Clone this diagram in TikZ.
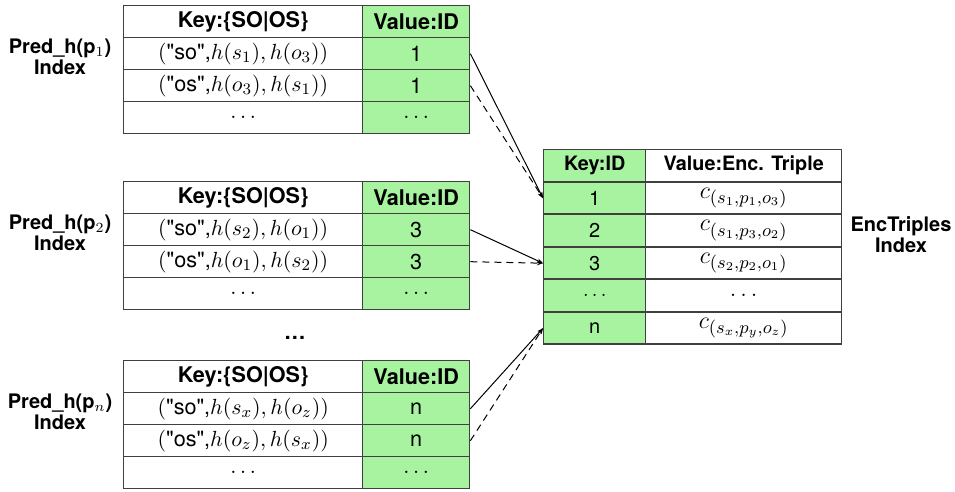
\documentclass[tikz,border=0pt]{standalone}
\usepackage[no-math]{fontspec}
\setsansfont{TeX Gyre Heros}
\usetikzlibrary{arrows.meta}

\definecolor{idgreen}{RGB}{168,243,160}
\newcommand{\sq}{{\XeTeXglyph\XeTeXglyphindex "quotedbl"\relax}}
\newcommand{\enc}[1]{\raisebox{-2.5pt}{$c_{(#1)}$}}

\tikzset{
  cell/.style={draw=black!75, line width=0.7pt, minimum height=16pt, inner sep=0pt,
    anchor=north west, font=\sffamily\fontsize{10.8}{12}\selectfont},
  keycell/.style={cell, minimum width=119.5pt},
  idcell/.style={cell, minimum width=53.5pt, fill=idgreen},
  enckey/.style={cell, minimum width=51pt, fill=idgreen, font=\sffamily\fontsize{10}{12}\selectfont},
  encval/.style={cell, minimum width=98pt, font=\sffamily\fontsize{12.5}{14}\selectfont},
  head/.style={font=\sffamily\bfseries\fontsize{10.8}{12}\selectfont},
  enchead/.style={font=\sffamily\bfseries\fontsize{9.9}{12}\selectfont},
  idxlabel/.style={align=center, font=\sffamily\bfseries\fontsize{10}{10.5}\selectfont},
  link/.style={line width=0.5pt, -{Stealth[length=3pt,width=2.2pt]}},
  duallink/.style={link, dash pattern=on 3.5pt off 2.5pt},
}

% one Pred_h(p) index table: name, top, p index, first, second, id
\newcommand{\predindex}[6]{
  \node[keycell, head] (#1k0) at (123,#2) {Key:\{SO|OS\}};
  \node[idcell, head] (#1v0) at (362,#2) {Value:ID};
  \node[keycell] (#1k1) at (123,#2+32) {$($\sq so\sq,$h(#4), h(#5))$};
  \node[idcell] (#1v1) at (362,#2+32) {#6};
  \node[keycell] (#1k2) at (123,#2+64) {$($\sq os\sq,$h(#5), h(#4))$};
  \node[idcell] (#1v2) at (362,#2+64) {#6};
  \node[keycell] (#1k3) at (123,#2+96) {$\ldots$};
  \node[idcell] (#1v3) at (362,#2+96) {$\ldots$};
  \node[idxlabel] (#1lab) at (60,#2+52) {Pred\_h(p$_{#3}$)\\Index};
}

\begin{document}
\begin{tikzpicture}[x=0.5pt, y=-0.5pt]
\useasboundingbox (0,0) rectangle (955,492);

% Pred indexes
\predindex{a}{5}{1}{s_1}{o_3}{1}
\predindex{b}{181}{2}{s_2}{o_1}{3}
\predindex{c}{360}{n}{s_x}{o_z}{n}

\node[font=\sffamily\bfseries\fontsize{10.8}{12}\selectfont] (more) at (295,338) {\ldots};

% EncTriples index
\node[enckey, enchead] (rk0) at (543,149) {Key:ID};
\node[encval, enchead] (rv0) at (645,149) {Value:Enc. Triple};
\node[enckey] (rk1) at (543,181.5) {1};
\node[encval] (rv1) at (645,181.5) {\enc{s_1,p_1,o_3}};
\node[enckey] (rk2) at (543,214) {2};
\node[encval] (rv2) at (645,214) {\enc{s_1,p_3,o_2}};
\node[enckey] (rk3) at (543,246.5) {3};
\node[encval] (rv3) at (645,246.5) {\enc{s_2,p_2,o_1}};
\node[enckey] (rk4) at (543,279) {$\ldots$};
\node[encval] (rv4) at (645,279) {$\ldots$};
\node[enckey] (rkn) at (543,311.5) {n};
\node[encval] (rvn) at (645,311.5) {\enc{s_x,p_y,o_z}};
\node[idxlabel] (rlab) at (901,235) {EncTriples\\Index};

% links
\draw[link] (av1.east) -- (rk1.west);
\draw[duallink] (av2.east) -- (rk1.west);
\draw[link] (bv1.east) -- (rk3.west);
\draw[duallink] (bv2.east) -- (rk3.west);
\draw[link] (cv1.east) -- (rkn.west);
\draw[duallink] (cv2.east) -- (rkn.west);

\end{tikzpicture}
\end{document}
